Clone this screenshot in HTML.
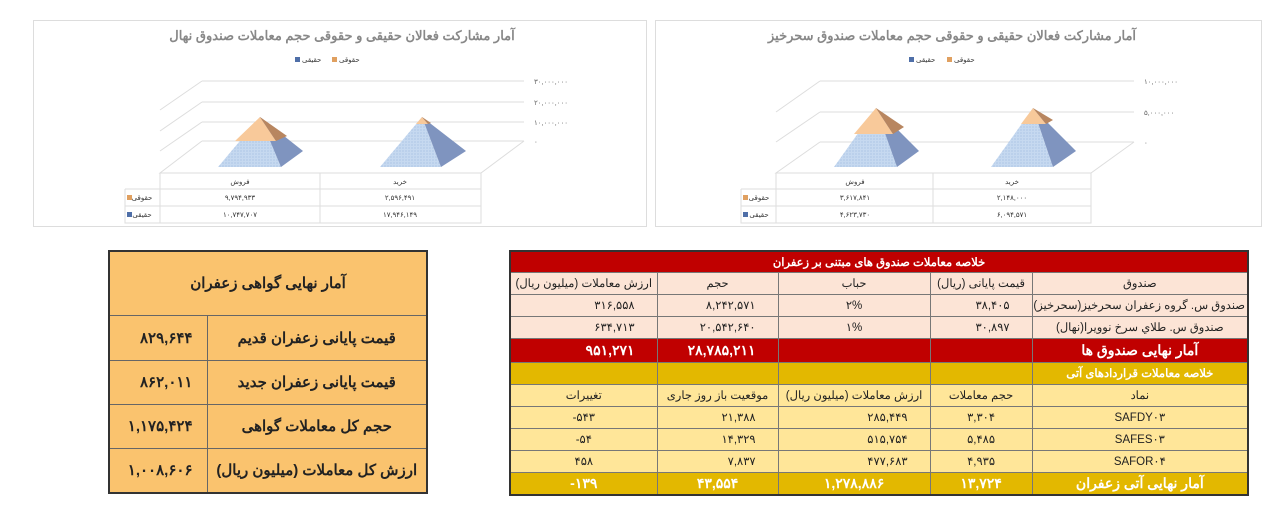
<!DOCTYPE html>
<html><head><meta charset="utf-8"><style>
body{margin:0;width:1280px;height:512px;background:#fff;position:relative;overflow:hidden;font-family:"Liberation Sans","Noto Sans CJK SC",sans-serif}
.a{position:absolute}
table{border-collapse:collapse;position:absolute;direction:rtl;table-layout:fixed}
td{padding:0 3px;font-size:11.5px;color:#222;border:1px solid #777;white-space:nowrap;overflow:hidden}
.lt td{border:1px solid #666;font-weight:bold;font-size:15px;background:#fac36e;text-align:center}
.r{text-align:right;padding-right:22px}
.c{text-align:center}
.w{color:#fff!important;font-weight:bold;font-size:14px}
.l{direction:ltr;unicode-bidi:isolate}
</style></head><body>

<div class="a" style="left:33px;top:20px;width:612px;height:205px;border:1px solid #ddd"></div>
<div class="a" style="left:655px;top:20px;width:605px;height:205px;border:1px solid #ddd"></div>
<svg class="a" style="left:0;top:0" width="1280" height="240" font-family="Liberation Sans, Noto Sans CJK SC, sans-serif">
<defs>
<pattern id="dt" width="3" height="3" patternUnits="userSpaceOnUse"><rect width="3" height="3" fill="#c6d9f0"/><circle cx="1" cy="1" r=".6" fill="#9fb8de"/></pattern>
</defs>
<text x="342" y="40" text-anchor="middle" font-size="13" font-weight="bold" fill="#888" direction="rtl">آمار مشارکت فعالان حقیقی و حقوقی حجم معاملات صندوق نهال</text>
<rect x="295" y="57" width="5" height="5" fill="#4f6fa8"/><text x="302" y="62" font-size="7" fill="#333">حقیقی</text>
<rect x="332" y="57" width="5" height="5" fill="#e0a060"/><text x="339" y="62" font-size="7" fill="#333">حقوقی</text>
<g stroke="#ddd" fill="none"><path d="M202 81 H524 M202 102 H524 M202 122 H524 M202 141 H524 M202 81 L160 110 M202 102 L160 131 M202 122 L160 151 M202 141 L160 173 H481 L524 141"/></g>
<g font-size="7" fill="#666"><text x="534" y="84">۳۰,۰۰۰,۰۰۰</text><text x="534" y="105">۲۰,۰۰۰,۰۰۰</text><text x="534" y="125">۱۰,۰۰۰,۰۰۰</text><text x="534" y="144">۰</text></g>
<polygon points="260,117 218,167 281,167" fill="url(#dt)"/><polygon points="260,117 281,167 303,151" fill="#7f94bf"/>
<polygon points="260,117 235,141 276,141" fill="#f8c99a"/><polygon points="260,117 276,141 287,136" fill="#b88660"/>
<polygon points="422,117 380,167 441,167" fill="url(#dt)"/><polygon points="422,117 441,167 466,151" fill="#7f94bf"/>
<polygon points="422,117 416,124 428,124" fill="#f8c99a"/><polygon points="422,117 428,124 431,123" fill="#b88660"/>
<g stroke="#ddd" fill="none"><path d="M160 173 V223 H481 V173 M320 173 V223 M125 189 H481 M125 206 H481 M125 189 V223 H160"/></g>
<g font-size="7" fill="#333" text-anchor="middle"><text x="240" y="184">فروش</text><text x="400" y="184">خرید</text>
<text x="240" y="200">۹,۷۹۴,۹۳۳</text><text x="400" y="200">۲,۵۹۶,۴۹۱</text><text x="240" y="217">۱۰,۷۴۷,۷۰۷</text><text x="400" y="217">۱۷,۹۴۶,۱۴۹</text>
<text x="142" y="200">حقوقی</text><text x="142" y="217">حقیقی</text></g>
<rect x="127" y="195" width="5" height="5" fill="#e0a060"/><rect x="127" y="212" width="5" height="5" fill="#4f6fa8"/>

<text x="952" y="40" text-anchor="middle" font-size="13" font-weight="bold" fill="#888" direction="rtl">آمار مشارکت فعالان حقیقی و حقوقی حجم معاملات صندوق سحرخیز</text>
<rect x="909" y="57" width="5" height="5" fill="#4f6fa8"/><text x="916" y="62" font-size="7" fill="#333">حقیقی</text>
<rect x="947" y="57" width="5" height="5" fill="#e0a060"/><text x="954" y="62" font-size="7" fill="#333">حقوقی</text>
<g stroke="#ddd" fill="none"><path d="M820 81 H1134 M820 112 H1134 M820 142 H1134 M820 81 L776 112 M820 112 L776 142 M820 142 L776 173 H1091 L1134 142"/></g>
<g font-size="7" fill="#666"><text x="1144" y="84">۱۰,۰۰۰,۰۰۰</text><text x="1144" y="115">۵,۰۰۰,۰۰۰</text><text x="1144" y="145">۰</text></g>
<polygon points="876,108 834,167 897,167" fill="url(#dt)"/><polygon points="876,108 897,167 919,151" fill="#7f94bf"/>
<polygon points="876,108 854,134 893,134" fill="#f8c99a"/><polygon points="876,108 893,134 904,127" fill="#b88660"/>
<polygon points="1033,108 991,167 1053,167" fill="url(#dt)"/><polygon points="1033,108 1053,167 1076,151" fill="#7f94bf"/>
<polygon points="1033,108 1021,124 1046,124" fill="#f8c99a"/><polygon points="1033,108 1046,124 1053,120" fill="#b88660"/>
<g stroke="#ddd" fill="none"><path d="M776 173 V223 H1091 V173 M933 173 V223 M741 189 H1091 M741 206 H1091 M741 189 V223 H776"/></g>
<g font-size="7" fill="#333" text-anchor="middle"><text x="855" y="184">فروش</text><text x="1012" y="184">خرید</text>
<text x="855" y="200">۳,۶۱۷,۸۴۱</text><text x="1012" y="200">۲,۱۴۸,۰۰۰</text><text x="855" y="217">۴,۶۲۳,۷۳۰</text><text x="1012" y="217">۶,۰۹۴,۵۷۱</text>
<text x="759" y="200">حقوقی</text><text x="759" y="217">حقیقی</text></g>
<rect x="743" y="195" width="5" height="5" fill="#e0a060"/><rect x="743" y="212" width="5" height="5" fill="#4f6fa8"/>
</svg>

<table class="lt" style="left:108px;top:250px;width:320px;height:244px;border:2px solid #333">
<colgroup><col style="width:220px"><col></colgroup>
<tr style="height:64px"><td colspan="2">آمار نهایی گواهی زعفران</td></tr>
<tr style="height:45px"><td>قیمت پایانی زعفران قدیم</td><td style="text-align:right;padding-right:14px">۸۲۹,۶۴۴</td></tr>
<tr style="height:44px"><td>قیمت پایانی زعفران جدید</td><td style="text-align:right;padding-right:14px">۸۶۲,۰۱۱</td></tr>
<tr style="height:44px"><td>حجم کل معاملات گواهی</td><td style="text-align:right;padding-right:14px">۱,۱۷۵,۴۲۴</td></tr>
<tr style="height:45px"><td>ارزش کل معاملات (میلیون ریال)</td><td style="text-align:right;padding-right:14px">۱,۰۰۸,۶۰۶</td></tr>
</table>

<table style="left:509px;top:250px;width:738px;height:244px;border:2px solid #333">
<colgroup><col style="width:216px"><col style="width:102px"><col style="width:152px"><col style="width:121px"><col style="width:147px"></colgroup>
<tr style="height:21px;background:#c00000"><td colspan="5" class="c" style="color:#fff;font-weight:bold">خلاصه معاملات صندوق های مبتنی بر زعفران</td></tr>
<tr style="height:22px;background:#fce4d6"><td class="c">صندوق</td><td class="c">قیمت پایانی (ریال)</td><td class="c">حباب</td><td class="c">حجم</td><td class="c">ارزش معاملات (میلیون ریال)</td></tr>
<tr style="height:22px;background:#fce4d6"><td>صندوق س. گروه زعفران سحرخیز(سحرخیز)</td><td class="r">۳۸,۴۰۵</td><td class="c">۲%</td><td class="r">۸,۲۴۲,۵۷۱</td><td class="r">۳۱۶,۵۵۸</td></tr>
<tr style="height:22px;background:#fce4d6"><td class="c">صندوق س. طلاي سرخ نوويرا(نهال)</td><td class="r">۳۰,۸۹۷</td><td class="c">۱%</td><td class="r">۲۰,۵۴۲,۶۴۰</td><td class="r">۶۳۴,۷۱۳</td></tr>
<tr style="height:24px;background:#c00000"><td class="w c">آمار نهایی صندوق ها</td><td></td><td></td><td class="w r">۲۸,۷۸۵,۲۱۱</td><td class="w r">۹۵۱,۲۷۱</td></tr>
<tr style="height:22px;background:#e3b800"><td class="c" style="color:#fff;font-weight:bold">خلاصه معاملات قراردادهای آتی</td><td></td><td></td><td></td><td></td></tr>
<tr style="height:22px;background:#ffe699"><td class="c">نماد</td><td class="c">حجم معاملات</td><td class="c">ارزش معاملات (میلیون ریال)</td><td class="c">موقعیت باز روز جاری</td><td class="c">تغییرات</td></tr>
<tr style="height:22px;background:#ffe699"><td class="c">SAFDY۰۳</td><td class="c">۳,۳۰۴</td><td class="r">۲۸۵,۴۴۹</td><td class="r">۲۱,۳۸۸</td><td class="c"><span class="l">-۵۴۳</span></td></tr>
<tr style="height:22px;background:#ffe699"><td class="c">SAFES۰۳</td><td class="c">۵,۴۸۵</td><td class="r">۵۱۵,۷۵۴</td><td class="r">۱۴,۳۲۹</td><td class="c"><span class="l">-۵۴</span></td></tr>
<tr style="height:22px;background:#ffe699"><td class="c">SAFOR۰۴</td><td class="c">۴,۹۳۵</td><td class="r">۴۷۷,۶۸۳</td><td class="r">۷,۸۳۷</td><td class="c">۴۵۸</td></tr>
<tr style="height:23px;background:#e3b800"><td class="w c">آمار نهایی آتی زعفران</td><td class="w c">۱۳,۷۲۴</td><td class="w c">۱,۲۷۸,۸۸۶</td><td class="w c">۴۳,۵۵۴</td><td class="w c"><span class="l">-۱۳۹</span></td></tr>
</table>
</body></html>
